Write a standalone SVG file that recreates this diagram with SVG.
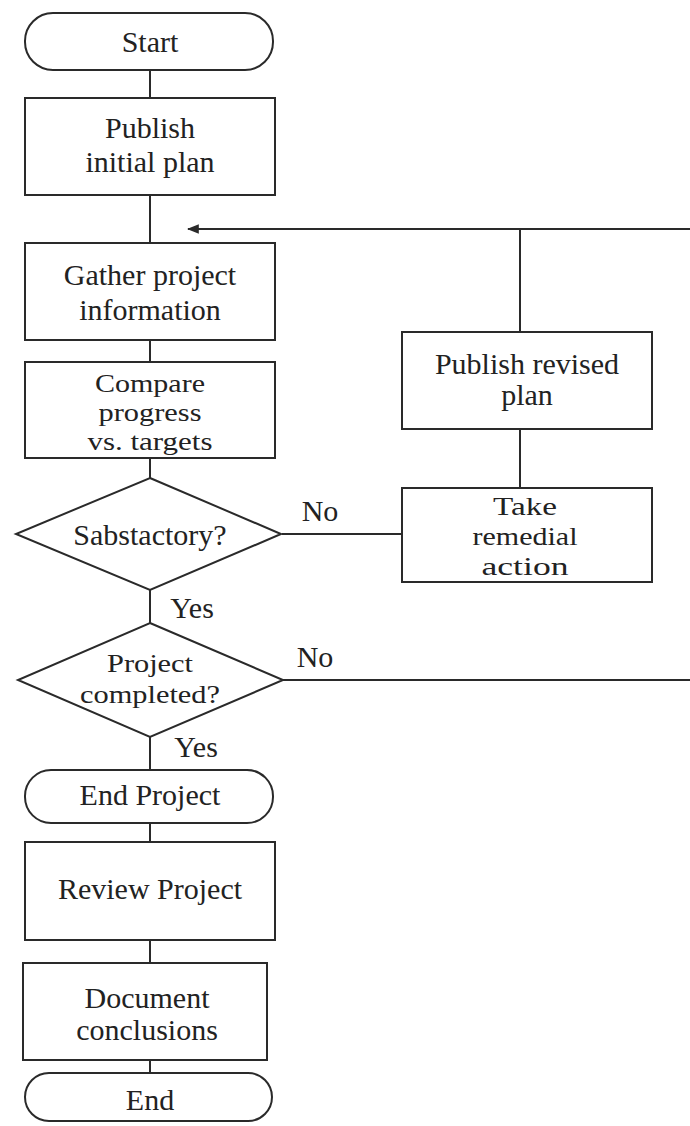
<svg xmlns="http://www.w3.org/2000/svg" width="690" height="1126" viewBox="0 0 690 1126">
<defs>
<style>
.n{fill:#fff;stroke:#2a2a2a;stroke-width:2}
.c{fill:none;stroke:#2a2a2a;stroke-width:2}
text{font-family:'Liberation Serif','DejaVu Serif',serif;font-size:30px;fill:#222;text-anchor:middle}
text.s{font-size:26px}
</style>
<marker id="ah" viewBox="0 0 10 10" refX="9" refY="5" markerWidth="6" markerHeight="6" orient="auto">
<path d="M10,5 L0,1 L0,9 Z" fill="#2a2a2a"/>
</marker>
</defs>
<rect width="690" height="1126" fill="#fff"/>
<g id="connectors">
<line class="c" x1="150" y1="70" x2="150" y2="98"/>
<line class="c" x1="150" y1="195" x2="150" y2="243"/>
<line class="c" x1="150" y1="340" x2="150" y2="362"/>
<line class="c" x1="150" y1="458" x2="150" y2="478"/>
<line class="c" x1="150" y1="590" x2="150" y2="623"/>
<line class="c" x1="150" y1="737" x2="150" y2="770"/>
<line class="c" x1="150" y1="823" x2="150" y2="842"/>
<line class="c" x1="150" y1="940" x2="150" y2="963"/>
<line class="c" x1="150" y1="1060" x2="150" y2="1073"/>
<line class="c" x1="690" y1="229" x2="188" y2="229" marker-end="url(#ah)"/>
<line class="c" x1="520" y1="229" x2="520" y2="332"/>
<line class="c" x1="520" y1="429" x2="520" y2="488"/>
<line class="c" x1="282" y1="534" x2="402" y2="534"/>
<line class="c" x1="283" y1="680" x2="690" y2="680"/>
<text x="320" y="521">No</text>
<text x="315" y="667">No</text>
<text x="192" y="618">Yes</text>
<text x="196" y="757">Yes</text>
</g>
<g id="start"><rect class="n" x="25" y="13" width="248" height="57" rx="28"/><text x="150" y="52">Start</text></g>
<g id="publish-initial"><rect class="n" x="25" y="98" width="250" height="97"/><text x="150" y="138">Publish</text><text x="150" y="172">initial plan</text></g>
<g id="gather"><rect class="n" x="25" y="243" width="250" height="97"/><text x="150" y="285">Gather project</text><text x="150" y="320">information</text></g>
<g id="compare"><rect class="n" x="25" y="362" width="250" height="96"/><text class="s" x="150" y="392" textLength="110" lengthAdjust="spacingAndGlyphs">Compare</text><text class="s" x="150" y="421" textLength="103" lengthAdjust="spacingAndGlyphs">progress</text><text class="s" x="150" y="450" textLength="125" lengthAdjust="spacingAndGlyphs">vs. targets</text></g>
<g id="satisfactory"><polygon class="n" points="150,478 281,534 150,590 16,534"/><text x="150" y="545">Sabstactory?</text></g>
<g id="completed"><polygon class="n" points="150,623 283,680 150,737 18,680"/><text class="s" x="150" y="672" textLength="86" lengthAdjust="spacingAndGlyphs">Project</text><text class="s" x="150" y="703" textLength="140" lengthAdjust="spacingAndGlyphs">completed?</text></g>
<g id="publish-revised"><rect class="n" x="402" y="332" width="250" height="97"/><text x="527" y="374">Publish revised</text><text x="527" y="405">plan</text></g>
<g id="remedial"><rect class="n" x="402" y="488" width="250" height="94"/><text class="s" x="525" y="515" textLength="64" lengthAdjust="spacingAndGlyphs">Take</text><text class="s" x="525" y="545" textLength="105" lengthAdjust="spacingAndGlyphs">remedial</text><text class="s" x="525" y="575" textLength="87" lengthAdjust="spacingAndGlyphs">action</text></g>
<g id="end-project"><rect class="n" x="25" y="770" width="248" height="53" rx="26"/><text x="150" y="805">End Project</text></g>
<g id="review"><rect class="n" x="25" y="842" width="250" height="98"/><text x="150" y="899">Review Project</text></g>
<g id="document"><rect class="n" x="23" y="963" width="244" height="97"/><text x="147" y="1008">Document</text><text x="147" y="1040">conclusions</text></g>
<g id="end"><rect class="n" x="25" y="1073" width="247" height="48" rx="24"/><text x="150" y="1110">End</text></g>
</svg>
